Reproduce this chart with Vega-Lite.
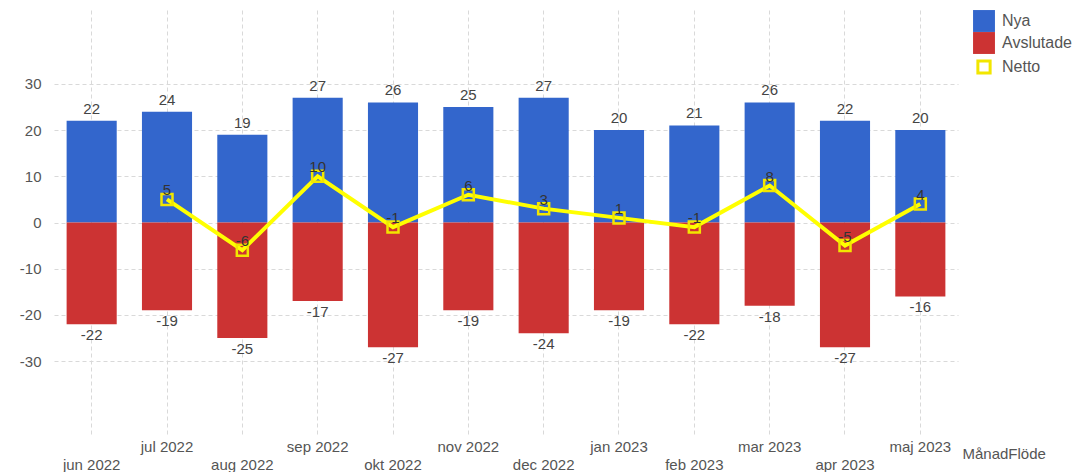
{
  "$schema": "https://vega.github.io/schema/vega-lite/v6.json",
  "autosize": "none",
  "width": 904,
  "height": 425,
  "padding": {"left": 54, "top": 10, "right": 128, "bottom": 37},
  "config": {
    "font": "Liberation Sans",
    "view": {"stroke": null},
    "locale": {"number": {"decimal": ".", "thousands": ",", "grouping": [3], "currency": ["$", ""], "minus": "-"}},
    "axis": {"labelFont": "Liberation Sans", "titleFont": "Liberation Sans"}
  },
  "datasets": {
    "bars": [
      {"m": "jun 2022", "s": "Nya", "v": 22}, {"m": "jun 2022", "s": "Avslutade", "v": -22},
      {"m": "jul 2022", "s": "Nya", "v": 24}, {"m": "jul 2022", "s": "Avslutade", "v": -19},
      {"m": "aug 2022", "s": "Nya", "v": 19}, {"m": "aug 2022", "s": "Avslutade", "v": -25},
      {"m": "sep 2022", "s": "Nya", "v": 27}, {"m": "sep 2022", "s": "Avslutade", "v": -17},
      {"m": "okt 2022", "s": "Nya", "v": 26}, {"m": "okt 2022", "s": "Avslutade", "v": -27},
      {"m": "nov 2022", "s": "Nya", "v": 25}, {"m": "nov 2022", "s": "Avslutade", "v": -19},
      {"m": "dec 2022", "s": "Nya", "v": 27}, {"m": "dec 2022", "s": "Avslutade", "v": -24},
      {"m": "jan 2023", "s": "Nya", "v": 20}, {"m": "jan 2023", "s": "Avslutade", "v": -19},
      {"m": "feb 2023", "s": "Nya", "v": 21}, {"m": "feb 2023", "s": "Avslutade", "v": -22},
      {"m": "mar 2023", "s": "Nya", "v": 26}, {"m": "mar 2023", "s": "Avslutade", "v": -18},
      {"m": "apr 2023", "s": "Nya", "v": 22}, {"m": "apr 2023", "s": "Avslutade", "v": -27},
      {"m": "maj 2023", "s": "Nya", "v": 20}, {"m": "maj 2023", "s": "Avslutade", "v": -16}
    ],
    "netto": [
      {"m": "jul 2022", "v": 5}, {"m": "aug 2022", "v": -6}, {"m": "sep 2022", "v": 10},
      {"m": "okt 2022", "v": -1}, {"m": "nov 2022", "v": 6}, {"m": "dec 2022", "v": 3},
      {"m": "jan 2023", "v": 1}, {"m": "feb 2023", "v": -1}, {"m": "mar 2023", "v": 8},
      {"m": "apr 2023", "v": -5}, {"m": "maj 2023", "v": 4}
    ]
  },
  "encoding": {
    "x": {
      "field": "m", "type": "nominal", "sort": null,
      "scale": {"domain": ["jun 2022","jul 2022","aug 2022","sep 2022","okt 2022","nov 2022","dec 2022","jan 2023","feb 2023","mar 2023","apr 2023","maj 2023"], "paddingInner": 0.335, "paddingOuter": 0.1675},
      "axis": {
        "title": "MånadFlöde", "labelAngle": 0, "domain": false, "ticks": false,
        "bandPosition": 0.5,
        "grid": true, "gridColor": "#d9d9d9", "gridDash": [4, 3], "gridWidth": 1,
        "labelFontSize": 15, "labelColor": "#555555",
        "labelBaseline": "top",
        "labelPadding": {"condition": {"test": "indexof(['jun 2022','aug 2022','okt 2022','dec 2022','feb 2023','apr 2023'], datum.value) >= 0", "value": 22}, "value": 4},
        "titleX": 908, "titleY": 18, "titleAlign": "left", "titleBaseline": "middle", "titleAnchor": null,
        "titleFontSize": 15, "titleFontWeight": "normal", "titleColor": "#555555"
      }
    }
  },
  "layer": [
    {
      "data": {"name": "bars"},
      "mark": {"type": "bar"},
      "encoding": {
        "y": {
          "field": "v", "type": "quantitative", "stack": null,
          "scale": {"domain": [-46, 46], "nice": false},
          "axis": {
            "title": null, "values": [-30, -20, -10, 0, 10, 20, 30], "domain": false, "ticks": false,
            "gridColor": "#d9d9d9", "gridDash": [4, 3], "labelFontSize": 15, "labelColor": "#555555", "labelPadding": 13
          }
        },
        "color": {
          "field": "s", "type": "nominal",
          "scale": {"domain": ["Nya", "Avslutade", "Netto"], "range": ["#3366cc", "#cc3333", "#ffff00"]},
          "legend": {
            "title": null, "orient": "none", "legendX": 922, "legendY": 3,
            "symbolType": "square", "symbolSize": 480, "rowPadding": 0, "labelFontSize": 16, "labelColor": "#555555",
            "labelOffset": 10, "symbolStrokeWidth": 0,
            "encode": {
              "symbols": {
                "update": {
                  "fillOpacity": {"signal": "datum.value === 'Netto' ? 0 : 1"},
                  "stroke": {"signal": "datum.value === 'Netto' ? '#f2e600' : 'transparent'"},
                  "strokeWidth": {"signal": "datum.value === 'Netto' ? 3 : 0"},
                  "size": {"signal": "datum.value === 'Netto' ? 150 : 480"}
                }
              }
            }
          }
        }
      }
    },
    {
      "data": {"name": "bars"},
      "transform": [{"filter": "datum.s === 'Nya'"}],
      "mark": {"type": "text", "baseline": "bottom", "dy": -4, "fontSize": 15, "color": "#444444"},
      "encoding": {"y": {"field": "v", "type": "quantitative"}, "text": {"field": "v", "type": "quantitative"}}
    },
    {
      "data": {"name": "bars"},
      "transform": [{"filter": "datum.s === 'Avslutade'"}],
      "mark": {"type": "text", "baseline": "top", "dy": 4, "fontSize": 15, "color": "#444444"},
      "encoding": {"y": {"field": "v", "type": "quantitative"}, "text": {"field": "v", "type": "quantitative"}}
    },
    {
      "data": {"name": "netto"},
      "mark": {"type": "line", "color": "#ffff00", "strokeWidth": 4},
      "encoding": {"y": {"field": "v", "type": "quantitative"}}
    },
    {
      "data": {"name": "netto"},
      "mark": {"type": "point", "shape": "square", "filled": false, "size": 121, "stroke": "#f2e600", "strokeWidth": 2.5, "opacity": 1},
      "encoding": {"y": {"field": "v", "type": "quantitative"}}
    },
    {
      "data": {"name": "netto"},
      "mark": {"type": "text", "baseline": "bottom", "dy": -1, "fontSize": 15, "color": "#333333"},
      "encoding": {"y": {"field": "v", "type": "quantitative"}, "text": {"field": "v", "type": "quantitative"}}
    }
  ]
}
